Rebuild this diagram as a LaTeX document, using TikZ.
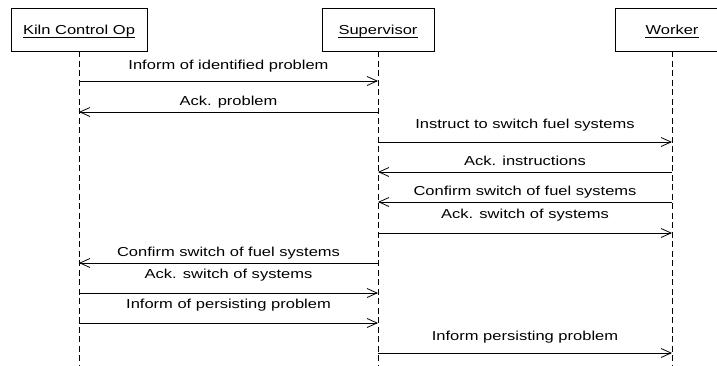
\documentclass[tikz,border=0pt]{standalone}
\usepackage{fontspec}
\setmainfont{Liberation Sans}[FakeStretch=1.27]
\usetikzlibrary{arrows.meta}
\begin{document}
\begin{tikzpicture}[x=1pt,y=-1pt,
  box/.style={draw,line width=0.9pt,minimum height=43pt,inner sep=0pt},
  head/.style={font=\fontsize{13}{15}\selectfont,anchor=base,inner sep=0pt},
  life/.style={draw,line width=0.8pt,dash pattern=on 6pt off 3.5pt},
  msg/.style={draw,line width=0.8pt,-{Straight Barb[length=10pt,width=9pt,line width=0.8pt]}},
  lbl/.style={font=\fontsize{13}{15}\selectfont,anchor=base,inner sep=0pt}]
\useasboundingbox (0,0) rectangle (717,365);
\clip (0,0) rectangle (717,365);

% participant boxes
\node[box,minimum width=136pt] (kiln) at (79,29.5) {};
\node[box,minimum width=112pt] (sup)  at (378,29.5) {};
\node[box,minimum width=114pt] (work) at (672,29.5) {};

% participant names, underlined
\node[head] (kilnT) at (79,34.5) {Kiln Control Op};
\node[head] (supT)  at (378,34.5) {Supervisor};
\node[head] (workT) at (672,34.5) {Worker};
\foreach \n in {kilnT,supT,workT}
  \draw[line width=0.8pt] ([yshift=-3pt]\n.base west) -- ([yshift=-3pt]\n.base east);

% lifelines
\coordinate (kilnE) at (kiln.south |- 0,365);
\coordinate (supE)  at (sup.south |- 0,365);
\coordinate (workE) at (work.south |- 0,365);
\draw[life] (kiln.south) -- (kilnE);
\draw[life] (sup.south) -- (supE);
\draw[life] (work.south) -- (workE);

% messages: label baseline, arrow height
\node[lbl] (m1) at (228.5,69.5) {Inform of identified problem};
\draw[msg] (kiln.south |- 0,81) -- (sup.south |- 0,81);

\node[lbl] (m2) at (228.5,105) {Ack. problem};
\draw[msg] (sup.south |- 0,112) -- (kiln.south |- 0,112);

\node[lbl] (m3) at (525,128) {Instruct to switch fuel systems};
\draw[msg] (sup.south |- 0,142) -- (work.south |- 0,142);

\node[lbl] (m4) at (525,165) {Ack. instructions};
\draw[msg] (work.south |- 0,172) -- (sup.south |- 0,172);

\node[lbl] (m5) at (525,195) {Confirm switch of fuel systems};
\draw[msg] (work.south |- 0,202) -- (sup.south |- 0,202);

\node[lbl] (m6) at (525,218.5) {Ack. switch of systems};
\draw[msg] (sup.south |- 0,233) -- (work.south |- 0,233);

\node[lbl] (m7) at (228.5,256) {Confirm switch of fuel systems};
\draw[msg] (sup.south |- 0,263) -- (kiln.south |- 0,263);

\node[lbl] (m8) at (228.5,278.5) {Ack. switch of systems};
\draw[msg] (kiln.south |- 0,293) -- (sup.south |- 0,293);

\node[lbl] (m9) at (228.5,308) {Inform of persisting problem};
\draw[msg] (kiln.south |- 0,323) -- (sup.south |- 0,323);

\node[lbl] (m10) at (525,340.5) {Inform persisting problem};
\draw[msg] (sup.south |- 0,353) -- (work.south |- 0,353);
\end{tikzpicture}
\end{document}
